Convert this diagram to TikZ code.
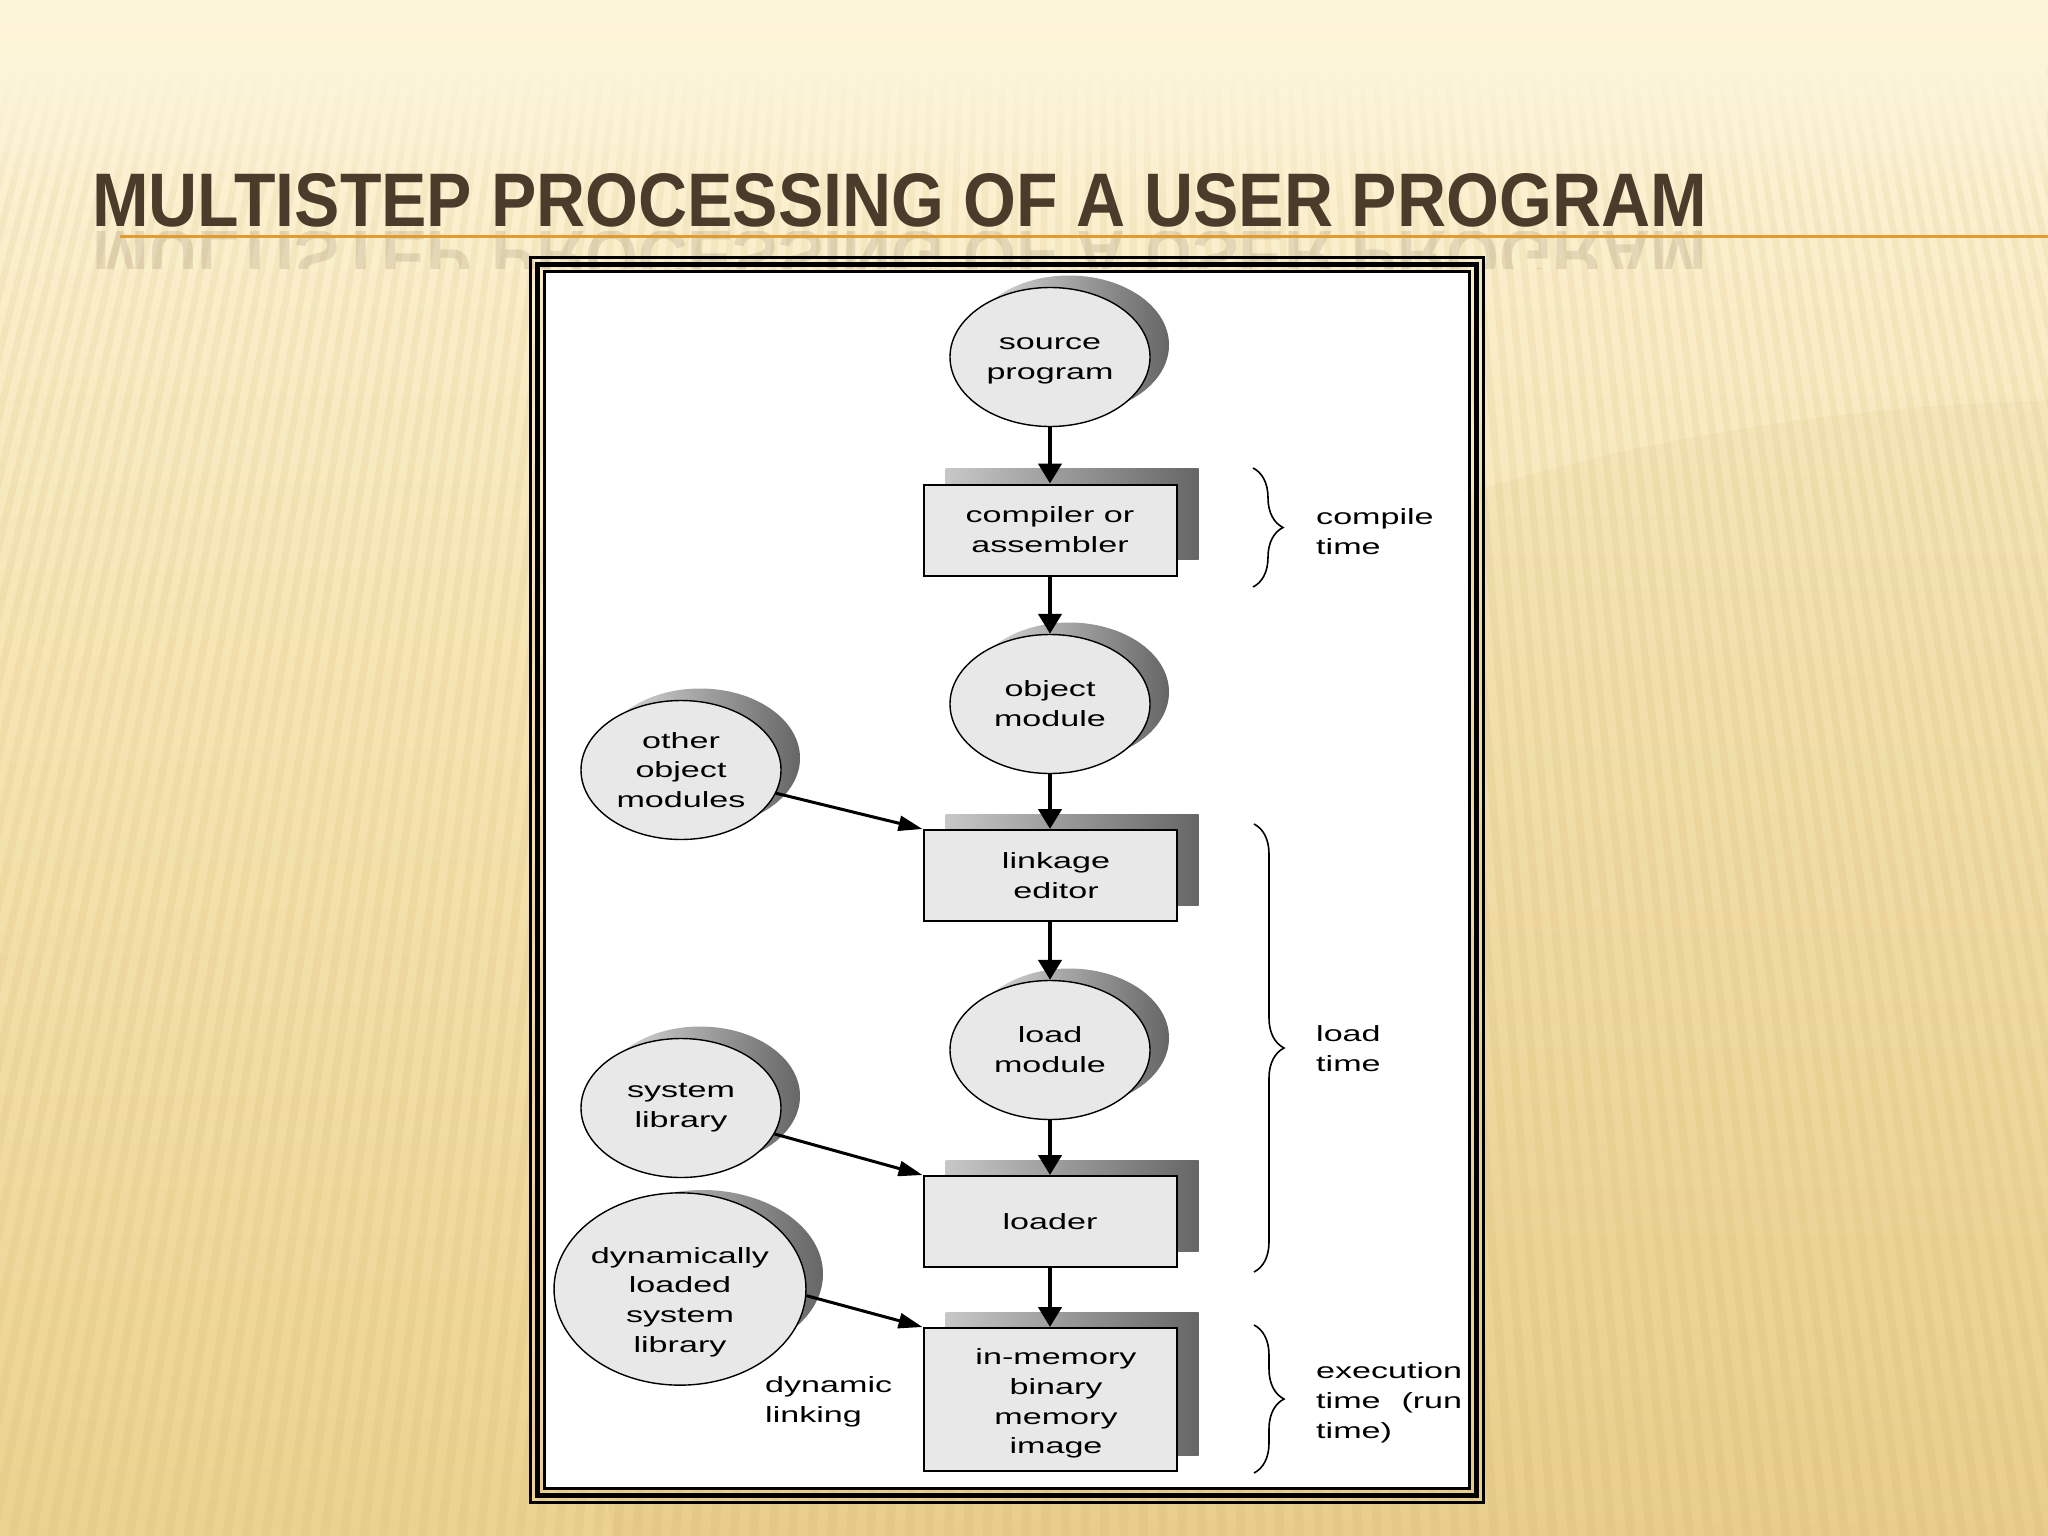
\documentclass[tikz,border=0pt]{standalone}
\usepackage{fontspec}
\usepackage{calc}
\usetikzlibrary{shapes.geometric,arrows.meta,decorations.pathreplacing,fadings}
\newfontfamily\figfont[FakeStretch=1.55]{Liberation Sans}
\newfontfamily\ttlfont{Liberation Sans}
\newcommand\figtext{\figfont\fontsize{22}{29.8}\selectfont}
\definecolor{bgtop}{HTML}{FDF5DA}
\definecolor{bgmid}{HTML}{F5E4B2}
\definecolor{bgbot}{HTML}{ECD290}
\definecolor{stripecol}{HTML}{C8A458}
\definecolor{titlebrown}{HTML}{4B3B2B}
\definecolor{rulecol}{HTML}{E49B2E}
\begin{document}
\begin{tikzpicture}[x=1pt,y=-1pt,
  ell/.style={ellipse, draw=black, line width=1.4pt, fill=black!9,
    minimum width=200pt, minimum height=139pt, inner sep=0pt,
    font=\figtext, align=center},
  ellsh/.style={ellipse, minimum width=200pt, minimum height=139pt,
    inner sep=0pt, left color=black!12, right color=black!60},
  proc/.style={rectangle, draw=black, line width=2pt, fill=black!9,
    minimum width=253pt, minimum height=91pt, inner sep=0pt,
    font=\figtext, align=center},
  procsh/.style={rectangle, minimum width=253pt, minimum height=91pt,
    inner sep=0pt, left color=black!22, right color=black!60},
  flow/.style={line width=4.5pt, -{Triangle[length=20pt,width=23pt]}},
  feed/.style={line width=3pt, -{Triangle[length=24pt,width=15pt]}},
  brc/.style={decorate, decoration={brace, amplitude=30pt}, line width=1.6pt},
  lbl/.style={font=\figtext, align=left, anchor=west, inner sep=0pt}
]
\useasboundingbox (0,0) rectangle (2048,1536);
% background
\fill[top color=bgtop, bottom color=bgmid] (0,0) rectangle (2048,700);
\fill[top color=bgmid, bottom color=bgbot] (0,700) rectangle (2048,1536);
\coordinate (vp) at (1100,-4000);
\begin{scope}
  \clip (0,70) rectangle (2048,1536);
  \foreach \i in {-82,...,72} {
    \fill[stripecol, opacity=0.11] (vp) -- ({1100+\i*19.5},1536) -- ({1109+\i*19.5},1536) -- cycle;
  }
\end{scope}
\fill[stripecol, opacity=0.08] (2100,1400) ellipse [x radius=1500, y radius=1000];
\fill[bgtop, path fading=south] (0,60) rectangle (2048,200);
% title
\node[anchor=base west, inner sep=0pt, text=titlebrown] (title) at (92,226)
  {\resizebox{1614pt}{53pt}{\ttlfont\bfseries MULTISTEP PROCESSING OF A USER PROGRAM}};
\begin{scope}
  \clip (0,231) rectangle (1800,268);
  \node[anchor=base west, inner sep=0pt, text=titlebrown, text opacity=0.13] (titlerefl) at (92,231)
    {\scalebox{1}[-1]{\resizebox{1614pt}{53pt}{\ttlfont\bfseries MULTISTEP PROCESSING OF A USER PROGRAM}}};
\end{scope}
\fill[rulecol] (120,234.5) rectangle (2048,237.5);
% frame
\fill[white] (546,273) rectangle (1468,1487);
\draw[line width=3pt] (530.5,257.5) rectangle (1483.5,1502.5);
\draw[line width=5pt] (537.2,264.2) rectangle (1476.8,1495.8);
\draw[line width=3.3pt] (544.6,271.6) rectangle (1469.4,1488.4);
% shadows and nodes
\node[ellsh] (srcsh) at (1069,345) {};
\node[ell] (src) at (1050,357) {\rule{0pt}{20pt}source\\program};
\node[procsh] (compsh) at (1072,514) {};
\node[proc] (comp) at (1050,530) {compiler or\\assembler};
\node[ellsh] (objsh) at (1069,692) {};
\node[ell] (obj) at (1050,704) {object\\module};
\node[procsh] (linksh) at (1072,859.5) {};
\node[proc] (link) at (1050,875.5) {\hspace*{12pt}linkage\\\hspace*{12pt}editor};
\node[ellsh] (loadsh) at (1069,1038) {};
\node[ell] (load) at (1050,1050) {load\\module};
\node[procsh] (loadersh) at (1072,1205.5) {};
\node[proc] (loader) at (1050,1221.5) {loader};
\node[procsh, minimum height=143pt] (inmemsh) at (1072,1383.5) {};
\node[proc, minimum height=143pt] (inmem) at (1050,1399.5)
  {\rule{0pt}{24pt}\hspace*{12pt}in-memory\\\hspace*{12pt}binary\\\hspace*{12pt}memory\\\hspace*{12pt}image};
\node[ellsh] (othersh) at (700,758) {};
\node[ell] (other) at (681,770) {other\\object\\modules};
\node[ellsh] (syslibsh) at (700,1096) {};
\node[ell] (syslib) at (681,1108) {system\\library};
\node[ellsh, minimum width=242pt, minimum height=168pt] (dynsh) at (702,1274) {};
\node[ell, minimum width=242pt, minimum height=168pt] (dyn) at (680,1289)
  {\rule{0pt}{42pt}dynamically\\loaded\\system\\library};
% connectors
\draw[flow] (src.south) -- (comp.north);
\draw[flow] (comp.south) -- (obj.north);
\draw[flow] (obj.south) -- (link.north);
\draw[flow] (link.south) -- (load.north);
\draw[flow] (load.south) -- (loader.north);
\draw[flow] (loader.south) -- (inmem.north);
\draw[feed] (other) -- (link.north west);
\draw[feed] (syslib) -- (loader.north west);
\draw[feed] (dyn.-3) -- (inmem.north west);
% braces and labels
\coordinate (cb1) at (1253,468);
\coordinate (cb2) at (1253,587);
\coordinate (lb1) at (1254,824);
\coordinate (lb2) at (1254,1272);
\coordinate (eb1) at (1254,1325);
\coordinate (eb2) at (1254,1473);
\draw[brc] (cb1) -- (cb2);
\draw[brc] (lb1) -- (lb2);
\draw[brc] (eb1) -- (eb2);
\node[lbl] (ctime) at (1316,531.5) {compile\\time};
\node[lbl] (ltime) at (1316,1048.5) {load\\time};
\node[lbl] (etime) at (1316,1402.5) {execution\\\makebox[\widthof{execution}][s]{time (run}\\time)};
\node[lbl] (dlink) at (765,1401.5) {dynamic\\linking};
\end{tikzpicture}
\end{document}
